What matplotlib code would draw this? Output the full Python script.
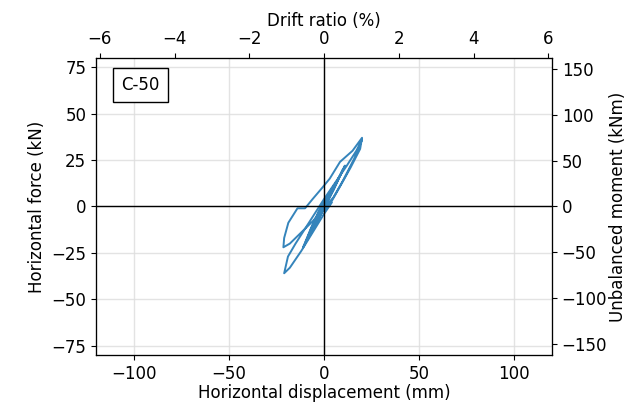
import matplotlib
matplotlib.use("Agg")
import matplotlib.pyplot as plt
import numpy as np

# Hysteresis path: displacement (mm) and horizontal force (kN)
disp = [0, 2, 4, 2, 0, -2, -4, -2, 0,
        3, 6, 3, 0, -3, -6, -3, 0,
        3, 7, 4, 0, -3, -7, -4, 0,
        5, 10, 6, 2, -2, -6, -10, -6, -1,
        5, 11, 7, 2, -3, -7, -11, -7, -2,
        3, 8, 14, 19, 20, 15, 8.4, 3, -1, -6, -10, -14, -18.8, -21, -21.4,
        -18, -12, -6, 0, 5, 10, 16, 20,
        17, 12, 6, 0, -5, -10, -15, -19, -21,
        -18, -12, -6, 0, 4]
force = [0, 4, 8, 4, 1, -3, -8, -4, -1,
         6, 12, 7, 2, -4, -12, -7, -1,
         6, 14, 9, 2, -4, -14, -8, -1,
         9, 20, 12, 5, -2, -10, -20, -13, -3,
         9, 22, 14, 6, -3, -12, -22, -14, -4,
         1, 10, 21, 31, 37, 30, 24, 15, 10, 4, -1, -1, -8.8, -17, -22,
         -20, -14, -8, -1, 5, 14, 26, 36,
         30, 22, 13, 4, -4, -12, -20, -27, -36,
         -33, -24, -14, -4, 2]

label_text = "C-50"
xlim = (-120, 120)
ylim = (-80, 80)
drift_lim = (-6.1, 6.1)
moment_lim = (-162, 162)
xticks = [-100, -50, 0, 50, 100]
yticks = [-75, -50, -25, 0, 25, 50, 75]
drift_ticks = [-6, -4, -2, 0, 2, 4, 6]
moment_ticks = [-150, -100, -50, 0, 50, 100, 150]

plt.rcParams['font.size'] = 12
fig = plt.figure(figsize=(6.28, 4.08), dpi=100)
ax = fig.add_axes([0.153, 0.13, 0.726, 0.728])
ax.plot(disp, force, color='#1f77b4', lw=1.4, alpha=0.9)
ax.axhline(0, color='black', lw=1)
ax.axvline(0, color='black', lw=1)
ax.set_xlim(*xlim)
ax.set_ylim(*ylim)
ax.set_xticks(xticks)
ax.set_yticks(yticks)
ax.grid(True, color='#dddddd', lw=1, alpha=0.8)
ax.set_xlabel("Horizontal displacement (mm)", labelpad=1)
ax.set_ylabel("Horizontal force (kN)")
ax.text(0.0976, 0.909, label_text, transform=ax.transAxes, ha='center', va='center',
        bbox=dict(boxstyle='square,pad=0.5', fc='white', ec='black', lw=1))

axt = ax.twiny()
axt.set_xlim(*drift_lim)
axt.set_xticks(drift_ticks)
axt.set_xlabel("Drift ratio (%)", labelpad=3)

axr = ax.twinx()
axr.set_ylim(*moment_lim)
axr.set_yticks(moment_ticks)
axr.set_ylabel("Unbalanced moment (kNm)", labelpad=1)

fig.savefig("out.png", dpi=100)
